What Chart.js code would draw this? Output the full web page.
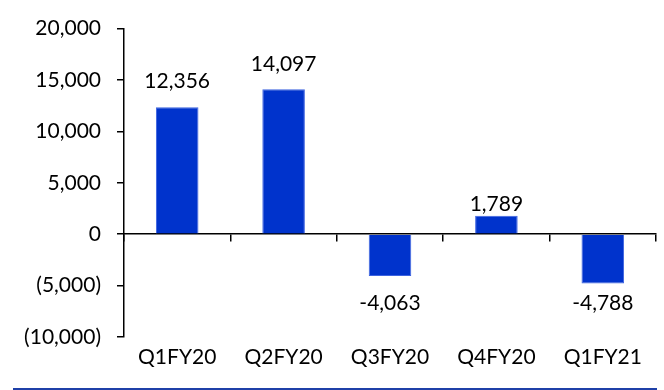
<!DOCTYPE html>
<html>
<head>
<meta charset="utf-8">
<script src="https://cdn.jsdelivr.net/npm/chart.js@4"></script>
<style>
  html, body { margin: 0; padding: 0; background: #fff; }
  #wrap { position: relative; width: 664px; height: 390px; }
  #rule { position: absolute; left: 13px; top: 388px; width: 644px; height: 2px; background: #1f40a8; }
</style>
</head>
<body>
<div id="wrap">
  <canvas id="barChart" width="664" height="390"></canvas>
  <div id="rule"></div>
</div>
<script>
const quarters = ['Q1FY20', 'Q2FY20', 'Q3FY20', 'Q4FY20', 'Q1FY21'];
const values = [12356, 14097, -4063, 1789, -4788];
const yTicks = [-10000, -5000, 0, 5000, 10000, 15000, 20000];

const fmt = v => v < 0 ? '(' + Math.abs(v).toLocaleString('en-US') + ')' : v.toLocaleString('en-US');
const font = { family: 'Lato', size: 21 };

// value labels, placed off the bar end like the original (small bar label sits close)
const barLabels = {
    id: 'barLabels',
    afterDatasetsDraw(chart, args, opts) {
        const ctx = chart.ctx;
        const meta = chart.getDatasetMeta(0);
        ctx.save();
        ctx.font = '21px Lato';
        ctx.fillStyle = '#000';
        ctx.textAlign = 'center';
        ctx.textBaseline = 'middle';
        meta.data.forEach((bar, i) => {
            const v = values[i];
            const gap = opts.gaps[i];
            const y = v >= 0 ? bar.y - gap : bar.y + gap;
            ctx.fillText(v.toLocaleString('en-US'), bar.x, y);
        });
        ctx.restore();
    }
};

new Chart(document.getElementById('barChart'), {
    type: 'bar',
    data: {
        labels: quarters,
        datasets: [{
            data: values,
            backgroundColor: '#0033cc',
            borderColor: '#3d63e0',
            borderWidth: 1,
            categoryPercentage: 1,
            barPercentage: 0.4
        }]
    },
    options: {
        responsive: false,
        animation: false,
        layout: { padding: { left: 0, right: 8, top: 25, bottom: 0 } },
        plugins: {
            legend: { display: false },
            tooltip: { enabled: false },
            barLabels: { gaps: [26, 25, 27, 12, 20] }
        },
        scales: {
            y: {
                min: -10000,
                max: 20000,
                afterBuildTicks: scale => { scale.ticks = yTicks.map(v => ({ value: v })); },
                afterFit: scale => { scale.width = 124; },
                ticks: { callback: v => fmt(v), color: '#000', font: font, padding: 16 },
                grid: { drawOnChartArea: false, tickLength: 7, color: '#000', lineWidth: 1.5 },
                border: { color: '#000', width: 1.5 }
            },
            x: {
                afterFit: scale => { scale.height = 53; },
                ticks: { color: '#000', font: font, padding: 8, maxRotation: 0 },
                grid: { display: false, drawTicks: false },
                border: { display: false }
            },
            xZero: {
                type: 'category',
                position: { y: 0 },
                offset: true,
                ticks: { display: false },
                grid: { offset: true, drawOnChartArea: false, tickLength: 7, color: '#000', lineWidth: 1.5 },
                border: { color: '#000', width: 1.5 }
            }
        }
    },
    plugins: [barLabels]
});
</script>
</body>
</html>
